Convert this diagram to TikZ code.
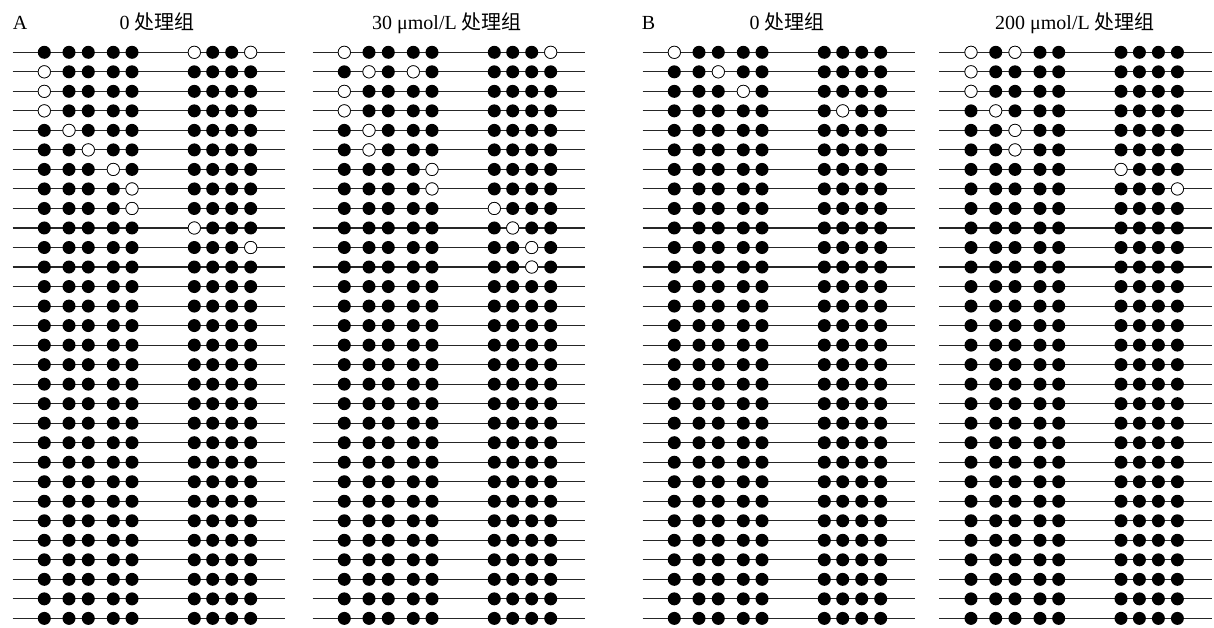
\documentclass[tikz,border=0pt]{standalone}
\usepackage{fontspec}
\setmainfont{Liberation Serif}
\newfontfamily\cjk{Noto Sans CJK SC}
\tikzset{
  strand/.style={line width=1.1pt, draw=black!85},
  meth/.style={circle, fill=black, inner sep=0pt, minimum size=13pt},
  unmeth/.style={circle, fill=white, draw=black, line width=0.7pt, inner sep=0pt, minimum size=12.3pt},
  ttl/.style={font=\fontsize{20}{24}\selectfont, anchor=base, inner sep=0pt}
}
\newcommand\drawmeth[3]{%
  \foreach \r in {0,...,29}{
    \pgfmathsetmacro\yy{52.3+\r*19.52}
    \coordinate (#3s\r) at (#1+12.7,\yy);
    \coordinate (#3e\r) at (#1+285,\yy);
    \draw[strand] (#3s\r) -- (#3e\r);
    \foreach \xx [count=\i from 0] in {44.3,69,88.3,113.3,132,194.3,212.7,231.7,250.7}{
      \node[meth] (#3c\r-\i) at (#1+\xx,\yy) {};
    }
  }
  \foreach \r/\i in {#2}{
    \node[unmeth] (#3o\r-\i) at (#3c\r-\i) {};
  }
}
\begin{document}
\begin{tikzpicture}[x=1pt,y=-1pt]
\useasboundingbox[fill=white] (0,0) rectangle (1214,627);
\node[ttl, anchor=base west] (lA) at (12.7,29.5) {A};
\node[ttl] (t1) at (157,29.5) {0 {\cjk 处理组}};
\node[ttl] (t2) at (447,29.5) {30 μmol/L {\cjk 处理组}};
\node[ttl, anchor=base west] (lB) at (641.7,29.5) {B};
\node[ttl] (t3) at (787,29.5) {0 {\cjk 处理组}};
\node[ttl] (t4) at (1075,29.5) {200 μmol/L {\cjk 处理组}};
\drawmeth{0}{0/5,0/8,1/0,2/0,3/0,4/1,5/2,6/3,7/4,8/4,9/5,10/8}{a}
\drawmeth{300}{0/0,0/8,1/1,1/3,2/0,3/0,4/1,5/1,6/4,7/4,8/5,9/6,10/7,11/7}{b}
\drawmeth{630}{0/0,1/2,2/3,3/6}{c}
\drawmeth{926.7}{0/0,0/2,1/0,2/0,3/1,4/2,5/2,6/5,7/8}{d}
\end{tikzpicture}
\end{document}
